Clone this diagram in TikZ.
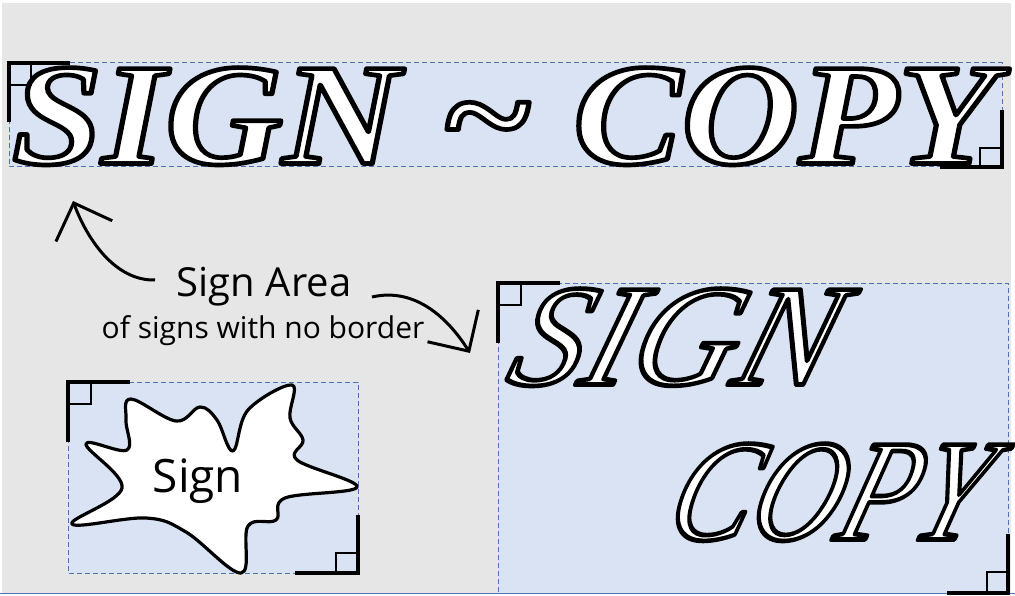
\documentclass[tikz,border=0pt]{standalone}
\usepackage{fontspec}
\setmainfont{Liberation Serif}
\newfontfamily\uifont{Open Sans}
\usetikzlibrary{arrows.meta}
\definecolor{bggray}{HTML}{E6E6E6}
\definecolor{areafill}{HTML}{DAE3F3}
\definecolor{arealine}{HTML}{4F72B3}
\newcommand{\outlinetext}[1]{{\color{white}\special{pdf:literal 2 Tr 4.6 w 1 j 0 G}#1\special{pdf:literal 0 Tr}}}
\tikzset{
  signarea/.style={fill=areafill, draw=arealine, line width=1pt, dash pattern=on 5pt off 3pt},
  cornerL/.style={draw=black, line width=3.4pt},
  cornersq/.style={draw=black, line width=2.2pt},
  pointer/.style={draw=black, line width=3pt, -{Straight Barb[length=30pt,width=60pt]}},
  blob/.style={fill=white, draw=black, line width=3.2pt, line join=round},
  bigtext/.style={inner sep=0pt, outer sep=0pt, font=\fontsize{143}{150}\selectfont\itshape},
  scripttext/.style={inner sep=0pt, outer sep=0pt, xslant=0.3, transform shape, font=\fontsize{143}{150}\selectfont\itshape},
  uitext/.style={inner sep=0pt, font=\uifont},
}
\begin{document}
\begin{tikzpicture}[x=1pt,y=-1pt]
\useasboundingbox (0,0) rectangle (1015,596);
\fill[white] (0,0) rectangle (1015,596);
\fill[bggray] (2,3) rectangle (1011,593);
\draw[arealine, line width=1.5pt] (0,593.5) -- (1015,593.5);

% sign areas
\path[signarea] (9,63) rectangle (1002,167);
\path[signarea] (68,382) rectangle (358,573);
\path[signarea] (498,283) rectangle (1008,593);

% top sign
\node[bigtext, anchor=south west] (title) at (12,165)
  {\resizebox{985pt}{96pt}{\bfseries\outlinetext{SIGN \textasciitilde{} COPY}}};

% blob sign
\path[blob] plot[smooth cycle, tension=0.62] coordinates {
  (131,399) (176,421) (200,407) (217,420) (233,451) (248,410) (292,385)
  (290,418) (303,440) (297,460) (357,487) (285,498) (276,520) (248,526)
  (241,573) (186,532) (146,518) (72,524) (122,488) (86,444) (127,450) (126,420)};
\node[uitext, font=\uifont\fontsize{46}{50}\selectfont] (blobtext) at (198,481) {Sign};

% script sign
\node[scripttext, anchor=south west] (sign1) at (503,386)
  {\resizebox{322pt}{96pt}{\outlinetext{SIGN}}};
\node[scripttext, anchor=south west] (sign2) at (662,541)
  {\resizebox{312pt}{96pt}{\outlinetext{COPY}}};

% label
\node[uitext, font=\uifont\fontsize{40}{44}\selectfont, anchor=base] (lbl) at (264,297) {Sign Area};
\node[uitext, font=\uifont\fontsize{30}{34}\selectfont, anchor=base] (lbl2) at (263,338) {of signs with no border};

\coordinate (s1) at (155,280);
\coordinate (t1) at (73,201);
\coordinate (s2) at (372,297);
\coordinate (t2) at (470,353);
\draw[pointer] (s1) .. controls (115,281) and (87,239) .. (t1);
\draw[pointer] (s2) .. controls (415,287) and (448,318) .. (t2);

% corner marks
\draw[cornerL] (70,63) -- (9,63) -- (9,122);
\draw[cornersq] (9,85) -- (31,85) -- (31,63);
\draw[cornerL] (940,167) -- (1002,167) -- (1002,110);
\draw[cornersq] (1002,148) -- (980,148) -- (980,167);

\draw[cornerL] (130,382) -- (68,382) -- (68,442);
\draw[cornersq] (68,404) -- (91,404) -- (91,382);
\draw[cornerL] (295,573) -- (358,573) -- (358,515);
\draw[cornersq] (358,553) -- (336,553) -- (336,573);

\draw[cornerL] (560,283) -- (498,283) -- (498,343);
\draw[cornersq] (498,305) -- (521,305) -- (521,283);
\draw[cornerL] (947,593) -- (1008,593) -- (1008,534);
\draw[cornersq] (1008,572) -- (987,572) -- (987,593);
\end{tikzpicture}
\end{document}
